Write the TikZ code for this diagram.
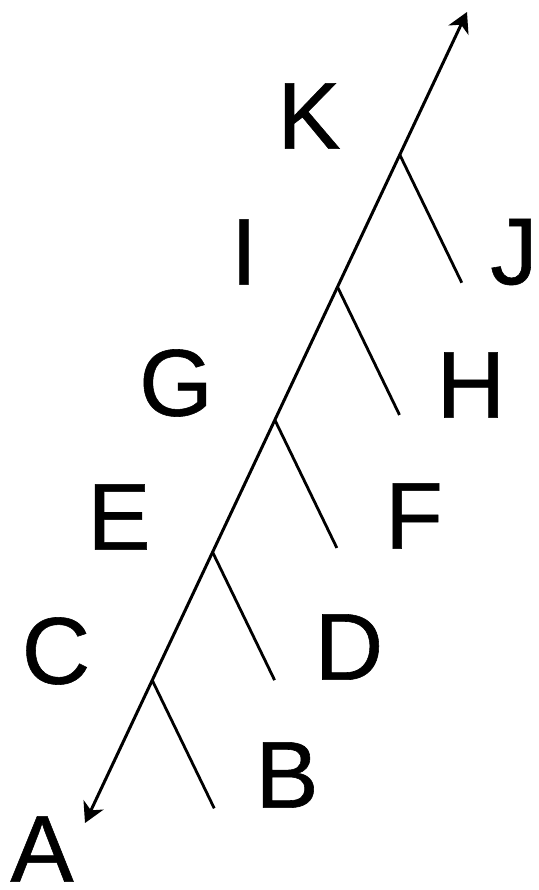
\documentclass[tikz,border=0pt]{standalone}
\usepackage{fontspec}
\setmainfont{Liberation Sans}[FakeBold=0.6]
\usetikzlibrary{arrows.meta,calc}

\begin{document}
\begin{tikzpicture}[
  x=1pt, y=-1pt,
  >={Stealth[length=20pt, width=22pt, inset=6pt]},
  trunk/.style={<->, line width=3pt},
  twig/.style={line width=2.8pt},
  taxon/.style={font=\fontsize{95}{95}\selectfont, inner sep=0pt}
]
\path[use as bounding box] (0,0) rectangle (538,890);

\coordinate (lo) at (85,823);
\coordinate (hi) at (467,12);
\draw[trunk] (lo) -- (hi);

\foreach \n/\t in {1/0.176, 2/0.334, 3/0.497, 4/0.661, 5/0.824}{
  \coordinate (j\n) at ($(lo)!\t!(hi)$);
  \draw[twig] (j\n) -- ++(62,128) coordinate (e\n);
}

\node[taxon] (A) at (42,849) {A};
\node[taxon] (B) at (287,775) {B};
\node[taxon] (C) at (56,651) {C};
\node[taxon] (D) at (349,647) {D};
\node[taxon] (E) at (119,517) {E};
\node[taxon] (F) at (414,516) {F};
\node[taxon] (G) at (176,383) {G};
\node[taxon] (H) at (471,385) {H};
\node[taxon] (I) at (244,252) {I};
\node[taxon] (J) at (514,252) {J};
\node[taxon] (K) at (309,116) {K};
\end{tikzpicture}
\end{document}
